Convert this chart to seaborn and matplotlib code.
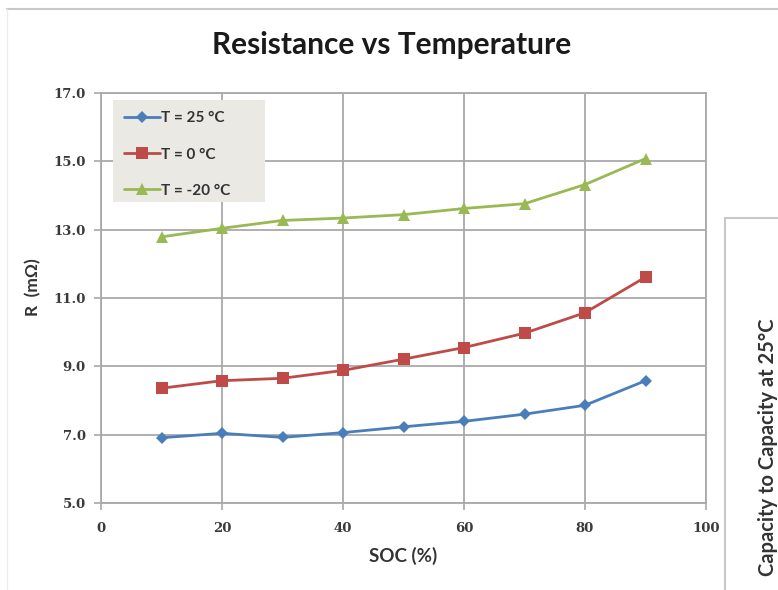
import matplotlib
matplotlib.use("Agg")
import matplotlib.pyplot as plt
import seaborn as sns
import pandas as pd
from matplotlib.lines import Line2D
from matplotlib.patches import Rectangle

soc = [10, 20, 30, 40, 50, 60, 70, 80, 90]
r_25 = [6.91, 7.04, 6.92, 7.06, 7.23, 7.39, 7.60, 7.86, 8.58]
r_0 = [8.36, 8.58, 8.65, 8.88, 9.21, 9.55, 9.97, 10.57, 11.61]
r_m20 = [12.79, 13.04, 13.27, 13.34, 13.44, 13.62, 13.76, 14.32, 15.08]
series_names = ["T = 25 °C", "T = 0 °C", "T = -20 °C"]
y_ticks = [5.0, 7.0, 9.0, 11.0, 13.0, 15.0, 17.0]
x_ticks = [0, 20, 40, 60, 80, 100]

df = pd.DataFrame({
    "SOC": soc * 3,
    "R": r_25 + r_0 + r_m20,
    "Series": [series_names[0]] * len(soc) + [series_names[1]] * len(soc) + [series_names[2]] * len(soc),
})

sns.set_theme(style="white")
plt.rcParams["font.family"] = ["Lato", "DejaVu Sans"]

fig = plt.figure(figsize=(7.78, 5.90), dpi=100)
fig.patch.set_facecolor("white")
ax = fig.add_axes([101 / 778, 87 / 590, 605 / 778, 410 / 590])

palette = {series_names[0]: "#4a7ebb", series_names[1]: "#be4b48", series_names[2]: "#98b954"}
markers = {series_names[0]: "D", series_names[1]: "s", series_names[2]: "^"}
sns.lineplot(data=df, x="SOC", y="R", hue="Series", style="Series", palette=palette,
             markers=markers, dashes=False, linewidth=2.0, markersize=8,
             markeredgewidth=0, ax=ax, legend=True, zorder=3)
for line in ax.lines:
    if line.get_marker() == "D":
        line.set_markersize(6)

ax.set_xlim(0, 100)
ax.set_ylim(5, 17)
ax.set_xticks(x_ticks)
ax.set_yticks(y_ticks)
ax.set_xticklabels([str(t) for t in x_ticks], family="DejaVu Serif", fontweight="bold", fontsize=9.5, color="#3a3a3a")
ax.set_yticklabels([f"{t:.1f}" for t in y_ticks], family="DejaVu Serif", fontweight="bold", fontsize=9.5, color="#3a3a3a")
ax.grid(True, color="#a9a9a9", linewidth=1.3)
for s in ax.spines.values():
    s.set_color("#a9a9a9")
    s.set_linewidth(1.3)
ax.tick_params(axis="x", which="major", length=5, width=1.2, color="#a9a9a9", direction="out",
               bottom=True, pad=9)
ax.tick_params(axis="y", which="major", length=5, width=1.2, color="#a9a9a9", direction="out",
               left=True, pad=6)

ax.set_xlabel("SOC (%)", fontsize=13.5, fontweight="bold", color="#333333", va="center", ha="center")
ax.xaxis.set_label_coords((403 - 101) / 605, (503 - 556) / 410)
ax.set_ylabel("R  (mΩ)", fontsize=12.5, fontweight="bold", color="#333333", va="center", ha="center")
ax.yaxis.set_label_coords((33 - 101) / 605, (503 - 287) / 410)
fig.text(392 / 778, 1 - 45 / 590, "Resistance vs Temperature", ha="center", va="center",
         fontsize=21.5, fontweight="bold", color="#1a1a1a")

# legend background box (reference box spans a bit wider than the entries)
ax.add_patch(Rectangle((12 / 605, (503 - 202) / 410), 152 / 605, 102 / 410, transform=ax.transAxes,
                       facecolor="#ebe9e3", edgecolor="none", zorder=4))
leg = ax.legend(loc="upper left", bbox_to_anchor=(12 / 605, (503 - 100) / 410), frameon=False,
                prop={"weight": "bold", "size": 11}, handlelength=2.3, labelspacing=1.45,
                borderpad=0.75, handletextpad=0.1, borderaxespad=0)
leg.set_zorder(5)
for t in leg.get_texts():
    t.set_color("#333333")

# outer chart border
fig.add_artist(Line2D([7 / 778, 1], [1 - 9 / 590, 1 - 9 / 590], color="#c8c8c8", linewidth=1.5, transform=fig.transFigure))
fig.add_artist(Line2D([7 / 778, 7 / 778], [1 - 9 / 590, 0], color="#ededed", linewidth=1.0, transform=fig.transFigure))
# neighbouring chart partially visible
fig.add_artist(Rectangle((725 / 778, -0.1), 0.2, 1 - 218 / 590 + 0.1, transform=fig.transFigure,
                         facecolor="white", edgecolor="#c8c8c8", linewidth=1.5))
fig.text(768 / 778, 1 - 318 / 590, "Capacity to Capacity at 25°C", rotation=90,
         ha="center", va="top", fontsize=14.5, fontweight="bold", color="#333333")

fig.savefig("out.png", dpi=100)
